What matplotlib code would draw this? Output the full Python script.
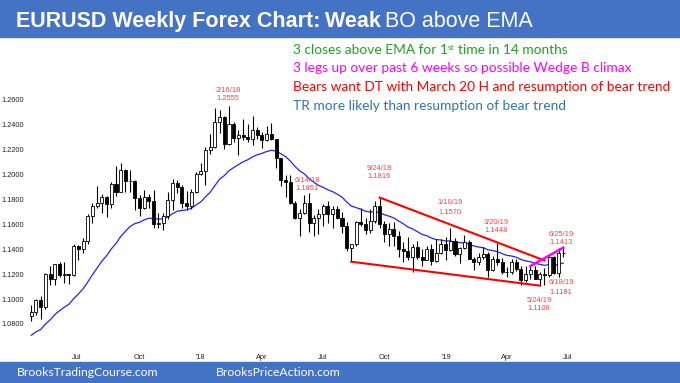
import numpy as np
import pandas as pd
import matplotlib
matplotlib.use('Agg')
import matplotlib.pyplot as plt
import matplotlib.dates as mdates
from matplotlib.patches import Rectangle

# weekly EURUSD candles, first bar is the week of 2017-04-24
first_week = '2017-04-24'

opens = [1.0860, 1.0895, 1.0990, 1.0933, 1.1205, 1.1165, 1.1280, 1.1195, 1.1198, 1.1195,
         1.1425, 1.1400, 1.1470, 1.1665, 1.1750, 1.1775, 1.1820, 1.1760, 1.1925, 1.1860,
         1.2035, 1.1945, 1.1950, 1.1815, 1.1730, 1.1820, 1.1785, 1.1605, 1.1610, 1.1665,
         1.1795, 1.1935, 1.1900, 1.1770, 1.1750, 1.1860,
         1.2005, 1.2030, 1.2200, 1.2220, 1.2425, 1.2460, 1.2250, 1.2410, 1.2295, 1.2315,
         1.2305, 1.2290, 1.2355, 1.2320, 1.2280, 1.2330, 1.2290, 1.2130, 1.1960, 1.1940,
         1.1770, 1.1655, 1.1690, 1.1770, 1.1610, 1.1655, 1.1685, 1.1745, 1.1685, 1.1720,
         1.1655, 1.1585, 1.1410, 1.1440, 1.1620, 1.1600, 1.1555, 1.1625, 1.1745, 1.1605,
         1.1525, 1.1560, 1.1510, 1.1400, 1.1390, 1.1335, 1.1415, 1.1335, 1.1315, 1.1405,
         1.1305, 1.1370, 1.1440,
         1.1395, 1.1470, 1.1365, 1.1410, 1.1455, 1.1325, 1.1295, 1.1335, 1.1365, 1.1235,
         1.1325, 1.1295, 1.1215, 1.1215, 1.1300, 1.1245, 1.1150, 1.1200, 1.1235, 1.1160,
         1.1205, 1.1195, 1.1335, 1.1210, 1.1370]
highs = [1.0950, 1.0999, 1.1023, 1.1210, 1.1268, 1.1285, 1.1296, 1.1295, 1.1200, 1.1445,
         1.1435, 1.1490, 1.1680, 1.1775, 1.1910, 1.1845, 1.1825, 1.1940, 1.2070, 1.2090,
         1.2045, 1.2035, 1.1960, 1.1835, 1.1880, 1.1845, 1.1880, 1.1690, 1.1690, 1.1860,
         1.1965, 1.1960, 1.1915, 1.1865, 1.1885, 1.2025,
         1.2090, 1.2220, 1.2325, 1.2537, 1.2520, 1.2475, 1.2555, 1.2420, 1.2355, 1.2445,
         1.2410, 1.2475, 1.2385, 1.2345, 1.2395, 1.2415, 1.2290, 1.2130, 1.1995, 1.1995,
         1.1785, 1.1725, 1.1840, 1.1851, 1.1675, 1.1720, 1.1760, 1.1790, 1.1750, 1.1750,
         1.1700, 1.1620, 1.1445, 1.1625, 1.1735, 1.1650, 1.1720, 1.1790, 1.1816, 1.1625,
         1.1610, 1.1620, 1.1545, 1.1455, 1.1500, 1.1445, 1.1470, 1.1400, 1.1425, 1.1445,
         1.1485, 1.1485, 1.1500,
         1.1570, 1.1490, 1.1420, 1.1515, 1.1475, 1.1340, 1.1370, 1.1420, 1.1375, 1.1345,
         1.1448, 1.1330, 1.1255, 1.1325, 1.1325, 1.1265, 1.1265, 1.1265, 1.1265, 1.1215,
         1.1250, 1.1350, 1.1350, 1.1410, 1.1413]
lows = [1.0820, 1.0870, 1.0838, 1.0920, 1.1110, 1.1110, 1.1180, 1.1130, 1.1120, 1.1185,
        1.1310, 1.1370, 1.1440, 1.1610, 1.1730, 1.1690, 1.1660, 1.1730, 1.1825, 1.1860,
        1.1860, 1.1860, 1.1715, 1.1670, 1.1725, 1.1730, 1.1575, 1.1575, 1.1555, 1.1640,
        1.1715, 1.1850, 1.1730, 1.1715, 1.1720, 1.1850,
        1.2000, 1.1915, 1.2165, 1.2215, 1.2335, 1.2205, 1.2235, 1.2260, 1.2155, 1.2275,
        1.2260, 1.2240, 1.2285, 1.2215, 1.2270, 1.2280, 1.2055, 1.1910, 1.1820, 1.1760,
        1.1645, 1.1510, 1.1680, 1.1540, 1.1510, 1.1525, 1.1590, 1.1610, 1.1575, 1.1640,
        1.1530, 1.1385, 1.1300, 1.1430, 1.1585, 1.1525, 1.1530, 1.1615, 1.1570, 1.1460,
        1.1430, 1.1430, 1.1335, 1.1300, 1.1315, 1.1215, 1.1325, 1.1265, 1.1310, 1.1270,
        1.1300, 1.1365, 1.1310,
        1.1385, 1.1350, 1.1290, 1.1400, 1.1320, 1.1235, 1.1275, 1.1320, 1.1175, 1.1225,
        1.1275, 1.1200, 1.1180, 1.1200, 1.1225, 1.1110, 1.1135, 1.1165, 1.1160, 1.1108,
        1.1115, 1.1180, 1.1200, 1.1181, 1.1340]
closes = [1.0895, 1.0990, 1.0933, 1.1205, 1.1165, 1.1280, 1.1195, 1.1198, 1.1195, 1.1425,
          1.1400, 1.1470, 1.1665, 1.1750, 1.1775, 1.1820, 1.1760, 1.1925, 1.1860, 1.2035,
          1.1945, 1.1950, 1.1815, 1.1730, 1.1820, 1.1785, 1.1605, 1.1610, 1.1665, 1.1795,
          1.1935, 1.1900, 1.1770, 1.1750, 1.1860, 1.2005,
          1.2030, 1.2200, 1.2220, 1.2425, 1.2460, 1.2250, 1.2410, 1.2295, 1.2315, 1.2305,
          1.2290, 1.2355, 1.2320, 1.2280, 1.2330, 1.2290, 1.2130, 1.1960, 1.1940, 1.1770,
          1.1655, 1.1690, 1.1770, 1.1610, 1.1655, 1.1685, 1.1745, 1.1685, 1.1720, 1.1655,
          1.1585, 1.1410, 1.1440, 1.1620, 1.1600, 1.1555, 1.1625, 1.1745, 1.1605, 1.1525,
          1.1560, 1.1510, 1.1400, 1.1390, 1.1335, 1.1415, 1.1335, 1.1315, 1.1405, 1.1305,
          1.1370, 1.1440, 1.1395,
          1.1470, 1.1365, 1.1410, 1.1455, 1.1325, 1.1295, 1.1335, 1.1365, 1.1235, 1.1325,
          1.1295, 1.1215, 1.1215, 1.1300, 1.1245, 1.1150, 1.1200, 1.1235, 1.1160, 1.1205,
          1.1195, 1.1335, 1.1210, 1.1370, 1.1370]

# 20 week EMA (blue line), one value per bar
ema = [1.0709, 1.0736, 1.0755, 1.0798, 1.0832, 1.0875, 1.0906, 1.0934, 1.0958, 1.1003,
       1.1041, 1.1082, 1.1137, 1.1196, 1.1250, 1.1305, 1.1348, 1.1403, 1.1447, 1.1503,
       1.1545, 1.1584, 1.1606, 1.1617, 1.1637, 1.1650, 1.1646, 1.1643, 1.1645, 1.1659,
       1.1686, 1.1706, 1.1712, 1.1716, 1.1730, 1.1756,
       1.1781, 1.1821, 1.1858, 1.1912, 1.1964, 1.1992, 1.2032, 1.2057, 1.2081, 1.2103,
       1.2120, 1.2143, 1.2160, 1.2171, 1.2186, 1.2196, 1.2190, 1.2168, 1.2146, 1.2110,
       1.2067, 1.2031, 1.2006, 1.1969, 1.1939, 1.1914, 1.1898, 1.1878, 1.1863, 1.1843,
       1.1819, 1.1780, 1.1747, 1.1735, 1.1722, 1.1706, 1.1699, 1.1703, 1.1694, 1.1678,
       1.1666, 1.1652, 1.1628, 1.1605, 1.1579, 1.1564, 1.1542, 1.1520, 1.1509, 1.1490,
       1.1478, 1.1475, 1.1467,
       1.1467, 1.1458, 1.1453, 1.1453, 1.1441, 1.1427, 1.1418, 1.1413, 1.1396, 1.1390,
       1.1381, 1.1365, 1.1351, 1.1346, 1.1336, 1.1318, 1.1307, 1.1300, 1.1287, 1.1279,
       1.1271, 1.1277, 1.1271, 1.1280, 1.1289]

tick_dates = ['2017-07-01', '2017-10-01', '2018-01-01', '2018-04-01', '2018-07-01',
              '2018-10-01', '2019-01-01', '2019-04-01', '2019-07-01']
tick_labels = ['Jul', 'Oct', "'18", 'Apr', 'Jul', 'Oct', "'19", 'Apr', 'Jul']
price_ticks = [1.08, 1.10, 1.12, 1.14, 1.16, 1.18, 1.20, 1.22, 1.24, 1.26]

swing_dates = ['2/16/18', '6/14/18', '9/24/18', '1/10/19', '3/20/19', '6/25/19', '6/18/19', '5/24/19']
swing_prices = ['1.2555', '1.1851', '1.1816', '1.1570', '1.1448', '1.1413', '1.1181', '1.1108']

upper_line_dates = ['2018-09-24', '2019-05-27']
upper_line_prices = [1.1816, 1.1310]
lower_line_dates = ['2018-08-13', '2019-05-20']
lower_line_prices = [1.1300, 1.1108]
wedge_dates = ['2019-05-06', '2019-06-24']
wedge_prices = [1.1265, 1.1413]

notes = ['3 closes above EMA for 1', '3 legs up over past 6 weeks so possible Wedge B climax',
         'Bears want DT with March 20 H and resumption of bear trend',
         'TR more likely than resumption of bear trend']
note_colors = ['#1FA31F', '#FF00FF', '#FF0000', '#2E75B6']

W, H = 680, 383
BLUE = '#4472C4'


def fx(px):
    return px / W


def fy(py):
    return 1 - py / H


def main():
    fig = plt.figure(figsize=(W / 100, H / 100), dpi=100)
    fig.patches.append(Rectangle((0, fy(37)), 1, 37 / H, transform=fig.transFigure,
                                 color=BLUE, zorder=0))
    fig.patches.append(Rectangle((0, 0), 1, 21 / H, transform=fig.transFigure,
                                 color=BLUE, zorder=0))

    ax = fig.add_axes([fx(28), fy(350), fx(680 - 28), (350 - 40) / H])
    ax.patch.set_alpha(0)
    for s in ax.spines.values():
        s.set_visible(False)

    dates = pd.date_range(first_week, periods=len(closes), freq='7D')
    x = mdates.date2num(dates)
    o = np.array(opens)
    h = np.array(highs)
    l = np.array(lows)
    c = np.array(closes)

    ax.vlines(x, l, h, color='black', lw=0.8, zorder=2)
    up = c >= o
    body_lo = np.minimum(o, c)
    body_h = np.maximum(np.abs(c - o), 0.0002)
    ax.bar(x, body_h, bottom=body_lo, width=4.5, color=np.where(up, 'white', 'black'),
           edgecolor='black', linewidth=0.6, zorder=3)

    ax.plot(x, ema, color='#2222FF', lw=0.9, zorder=1)

    ax.plot(mdates.datestr2num(upper_line_dates), upper_line_prices, color='red', lw=1.5, zorder=4)
    ax.plot(mdates.datestr2num(lower_line_dates), lower_line_prices, color='red', lw=1.5, zorder=4)
    ax.plot(mdates.datestr2num(wedge_dates), wedge_prices, color='#FF00FF', lw=1.8, zorder=4)

    jul17 = mdates.datestr2num('2017-07-01')
    ppd = 491 / 730.0
    ax.set_xlim(jul17 - (77 - 28) / ppd, jul17 + (680 - 77) / ppd)
    ax.set_ylim(1.26 - 250 / 1244, 1.26 + 60 / 1244)

    ax.set_xticks(mdates.datestr2num(tick_dates))
    ax.set_xticklabels(tick_labels)
    ax.set_yticks(price_ticks)
    ax.set_yticklabels(['%.4f' % p for p in price_ticks])
    ax.tick_params(length=0, labelsize=5.3, pad=3, labelcolor='#222222')
    for t in ax.get_xticklabels() + ax.get_yticklabels():
        t.set_family('Liberation Sans')

    # swing high / low labels
    label_pos = [(228, 90), (307, 180), (379, 168), (450, 203), (496, 222),
                 (561, 234), (561, 283), (539, 300)]
    for (px, py), d, p in zip(label_pos, swing_dates, swing_prices):
        fig.text(fx(px), fy(py), d, ha='center', va='center', fontsize=5.4,
                 color='#FF4040', family='Liberation Sans')
        fig.text(fx(px), fy(py + 9), p, ha='center', va='center', fontsize=5.4,
                 color='#FF4040', family='Liberation Sans')

    r = fig.canvas.get_renderer()

    def run(px, py, parts, **kw):
        for s, extra in parts:
            t = fig.text(fx(px), fy(py), s, ha='left', va='baseline', **kw, **extra)
            px += t.get_window_extent(r).width
        return px

    # title
    run(16, 27, [('EURUSD Weekly Forex Chart:\u2009', {'weight': 'bold'}),
                 ('Weak\u2009', {'weight': 'bold'}),
                 ('BO above EMA', {})],
        color='white', fontsize=15.5, family='Liberation Sans')

    # notes on the right
    ys = [54, 72, 91, 110]
    nfs = 9.9
    end = run(293, ys[0], [(notes[0], {})], color=note_colors[0], fontsize=nfs, family='Lato')
    end = run(end, ys[0] - 4, [('st', {'fontsize': nfs * 0.6})], color=note_colors[0], family='Lato')
    run(end + 3, ys[0], [('time in 14 months', {})], color=note_colors[0], fontsize=nfs, family='Lato')
    for i in range(1, 4):
        run(293, ys[i], [(notes[i], {})], color=note_colors[i], fontsize=nfs, family='Lato')

    # footer
    fig.text(fx(17), fy(373), 'BrooksTradingCourse.com', color='white', fontsize=8.7,
             family='Lato', va='center')
    fig.text(fx(216), fy(373), 'BrooksPriceAction.com', color='white', fontsize=8.7,
             family='Lato', va='center')

    fig.savefig('out.png', dpi=100)


if __name__ == '__main__':
    main()
